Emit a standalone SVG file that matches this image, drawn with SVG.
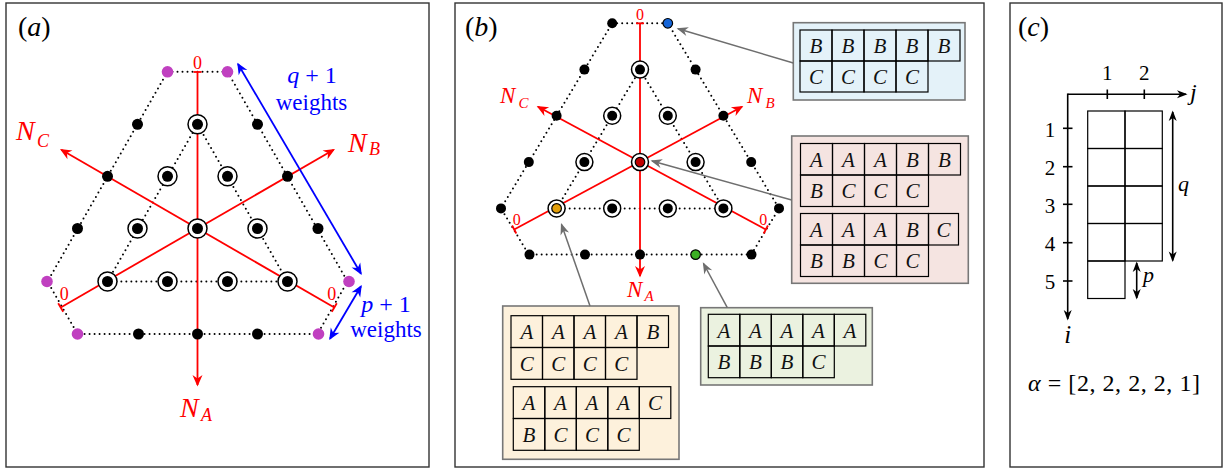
<svg xmlns="http://www.w3.org/2000/svg" width="1225" height="473" viewBox="0 0 1225 473" font-family="'Liberation Serif', 'DejaVu Serif', serif">
<style>
text{font-family:"Liberation Serif","DejaVu Serif",serif;}
.it{font-style:italic;}
.frame{fill:#fff;stroke:#333;stroke-width:1.4;}
.dot{stroke:#000;stroke-width:2;stroke-linecap:round;stroke-dasharray:0 5;fill:none;}
.red{stroke:#f00;stroke-width:1.8;fill:none;}
.rt{fill:#f00;}
.blue{stroke:#00f;stroke-width:1.8;fill:none;}
.bt{fill:#00f;}
.gray{stroke:#6e6e6e;stroke-width:1.5;fill:none;}
.blk{stroke:#000;stroke-width:1.6;fill:none;}
.ring{fill:#fff;stroke:#000;stroke-width:1.5;}
.box{stroke:#777;stroke-width:1.6;}
.cell{fill:none;stroke:#000;stroke-width:1.2;}
.ct{font-style:italic;font-size:21px;text-anchor:middle;fill:#111;}
.lab{font-size:21px;text-anchor:middle;}
</style>
<defs>
<marker id="mr" viewBox="-12 -6 14 12" refX="0" refY="0" markerWidth="14" markerHeight="12" markerUnits="userSpaceOnUse" orient="auto-start-reverse"><path d="M1.5,0 L-10,-5 L-6.5,0 L-10,5 Z" fill="#f00"/></marker>
<marker id="mb" viewBox="-12 -6 14 12" refX="0" refY="0" markerWidth="14" markerHeight="12" markerUnits="userSpaceOnUse" orient="auto-start-reverse"><path d="M1.5,0 L-10,-5 L-6.5,0 L-10,5 Z" fill="#00f"/></marker>
<marker id="mg" viewBox="-12 -6 14 12" refX="0" refY="0" markerWidth="14" markerHeight="12" markerUnits="userSpaceOnUse" orient="auto-start-reverse"><path d="M1.5,0 L-10,-4.5 L-6.5,0 L-10,4.5 Z" fill="#6e6e6e"/></marker>
<marker id="mk" viewBox="-12 -6 14 12" refX="0" refY="0" markerWidth="14" markerHeight="12" markerUnits="userSpaceOnUse" orient="auto-start-reverse"><path d="M1.5,0 L-9,-4 L-6,0 L-9,4 Z" fill="#000"/></marker>
</defs>

<!-- ================= Panel (a) ================= -->
<g id="panel-a">
<rect class="frame" x="6" y="3" width="423" height="464"/>
<text x="18" y="36" font-size="28">(<tspan class="it">a</tspan>)</text>
</g>
<g id="a-connectors">
<path class="dot" d="M167.5,71.8 L227.5,71.8 L347.5,281.5 L317.5,334 L77.5,334 L47.5,281.5 Z"/>
<path class="dot" d="M197.5,124.3 L107.5,281.5 L287.5,281.5 Z"/>
<line class="red" x1="197.5" y1="72" x2="197.5" y2="385" marker-end="url(#mr)"/>
<line class="red" x1="193.5" y1="72" x2="201.5" y2="72"/>
<line class="red" x1="334.3" y1="307.5" x2="61.3" y2="149.8" marker-end="url(#mr)"/>
<line class="red" x1="331.8" y1="311.8" x2="336.8" y2="303.2"/>
<line class="red" x1="60.7" y1="307.5" x2="333.7" y2="149.8" marker-end="url(#mr)"/>
<line class="red" x1="63.2" y1="311.8" x2="58.2" y2="303.2"/>
<line class="blue" x1="238" y1="64" x2="361" y2="273.7" marker-start="url(#mb)" marker-end="url(#mb)"/>
<line class="blue" x1="361" y1="286.3" x2="330" y2="338.7" marker-start="url(#mb)" marker-end="url(#mb)"/>
</g>
<g id="a-nodes">
<g id="a-r1"><circle cx="167.5" cy="71.8" r="5.8" fill="#c040c0"/><circle cx="227.5" cy="71.8" r="5.8" fill="#c040c0"/></g>
<g id="a-r2"><circle cx="137.5" cy="124.3" r="5.5"/><circle class="ring" cx="197.5" cy="124.3" r="9.5"/><circle cx="197.5" cy="124.3" r="5.5"/><circle cx="257.5" cy="124.3" r="5.5"/></g>
<g id="a-r3"><circle cx="107.5" cy="176.3" r="5.5"/><circle class="ring" cx="167.5" cy="176.3" r="9.5"/><circle cx="167.5" cy="176.3" r="5.5"/><circle class="ring" cx="227.5" cy="176.3" r="9.5"/><circle cx="227.5" cy="176.3" r="5.5"/><circle cx="287.5" cy="176.3" r="5.5"/></g>
<g id="a-r4"><circle cx="77.5" cy="228.5" r="5.5"/><circle class="ring" cx="137.5" cy="228.5" r="9.5"/><circle cx="137.5" cy="228.5" r="5.5"/><circle class="ring" cx="197.5" cy="228.5" r="9.5"/><circle cx="197.5" cy="228.5" r="5.5"/><circle class="ring" cx="257.5" cy="228.5" r="9.5"/><circle cx="257.5" cy="228.5" r="5.5"/><circle cx="318" cy="228.5" r="5.5"/></g>
<g id="a-r5"><circle cx="47" cy="281.5" r="5.8" fill="#c040c0"/><circle class="ring" cx="107.5" cy="281.5" r="9.5"/><circle cx="107.5" cy="281.5" r="5.5"/><circle class="ring" cx="167.5" cy="281.5" r="9.5"/><circle cx="167.5" cy="281.5" r="5.5"/><circle class="ring" cx="227.5" cy="281.5" r="9.5"/><circle cx="227.5" cy="281.5" r="5.5"/><circle class="ring" cx="287.5" cy="281.5" r="9.5"/><circle cx="287.5" cy="281.5" r="5.5"/><circle cx="349" cy="281.5" r="5.8" fill="#c040c0"/></g>
<g id="a-r6"><circle cx="77.5" cy="334" r="5.8" fill="#c040c0"/><circle cx="138.5" cy="334" r="5.5"/><circle cx="197.5" cy="334" r="5.5"/><circle cx="257.5" cy="334" r="5.5"/><circle cx="318.5" cy="334" r="5.8" fill="#c040c0"/></g>
</g>
<g id="a-labels">
<text class="rt" x="197.5" y="69" font-size="18" text-anchor="middle">0</text>
<text class="rt" x="64.3" y="300" font-size="18" text-anchor="middle">0</text>
<text class="rt" x="331.7" y="300" font-size="18" text-anchor="middle">0</text>
<text class="rt it" x="16" y="140" font-size="28">N</text><text class="rt it" x="37" y="147" font-size="18">C</text>
<text class="rt it" x="348" y="152" font-size="28">N</text><text class="rt it" x="369" y="155" font-size="18">B</text>
<text class="rt it" x="180" y="417" font-size="28">N</text><text class="rt it" x="201" y="421" font-size="18">A</text>
<text class="bt" x="312" y="83" font-size="24" text-anchor="middle"><tspan class="it">q</tspan> + 1</text>
<text class="bt" x="311.5" y="110" font-size="23" text-anchor="middle">weights</text>
<text class="bt" x="386" y="312" font-size="24" text-anchor="middle"><tspan class="it">p</tspan> + 1</text>
<text class="bt" x="386" y="337" font-size="23" text-anchor="middle">weights</text>
</g>

<!-- ================= Panel (b) ================= -->
<g id="panel-b">
<rect class="frame" x="455" y="3" width="529" height="464"/>
<text x="465" y="36" font-size="28">(<tspan class="it">b</tspan>)</text>
</g>
<g id="b-connectors">
<path class="dot" d="M612.2,23.3 L667.8,23.3 L779,208.4 L751.2,254.6 L528.8,254.6 L501,208.4 Z"/>
<path class="dot" d="M640,69.6 L556.6,208.4 L723.4,208.4 Z"/>
<line class="red" x1="640" y1="23.3" x2="640" y2="276" marker-end="url(#mr)"/>
<line class="red" x1="636" y1="23.3" x2="644" y2="23.3"/>
<line class="red" x1="765.8" y1="229.5" x2="538" y2="106.8" marker-end="url(#mr)"/>
<line class="red" x1="763.7" y1="233.5" x2="767.9" y2="225.5"/>
<line class="red" x1="514.2" y1="229.5" x2="742" y2="106.8" marker-end="url(#mr)"/>
<line class="red" x1="516.3" y1="233.5" x2="512.1" y2="225.5"/>
</g>
<g id="b-nodes">
<g id="b-r1"><circle cx="612.2" cy="23.3" r="5"/><circle cx="667.8" cy="23.3" r="4.8" fill="#1565d8" stroke="#000" stroke-width="1.2"/></g>
<g id="b-r2"><circle cx="584.4" cy="69.6" r="5"/><circle class="ring" cx="640" cy="69.6" r="8.5"/><circle cx="640" cy="69.6" r="5"/><circle cx="695.6" cy="69.6" r="5"/></g>
<g id="b-r3"><circle cx="556.6" cy="115.8" r="5"/><circle class="ring" cx="612.2" cy="115.8" r="8.5"/><circle cx="612.2" cy="115.8" r="5"/><circle class="ring" cx="667.8" cy="115.8" r="8.5"/><circle cx="667.8" cy="115.8" r="5"/><circle cx="723.4" cy="115.8" r="5"/></g>
<g id="b-r4"><circle cx="528.8" cy="162.1" r="5"/><circle class="ring" cx="584.4" cy="162.1" r="8.5"/><circle cx="584.4" cy="162.1" r="5"/><circle class="ring" cx="640" cy="162.1" r="8.5"/><circle cx="640" cy="162.1" r="4.8" fill="#c00000" stroke="#000" stroke-width="1.2"/><circle class="ring" cx="695.6" cy="162.1" r="8.5"/><circle cx="695.6" cy="162.1" r="5"/><circle cx="751.2" cy="162.1" r="5"/></g>
<g id="b-r5"><circle cx="501" cy="208.4" r="5"/><circle class="ring" cx="556.6" cy="208.4" r="8.5"/><circle cx="556.6" cy="208.4" r="4.8" fill="#e3a00c" stroke="#000" stroke-width="1.2"/><circle class="ring" cx="612.2" cy="208.4" r="8.5"/><circle cx="612.2" cy="208.4" r="5"/><circle class="ring" cx="667.8" cy="208.4" r="8.5"/><circle cx="667.8" cy="208.4" r="5"/><circle class="ring" cx="723.4" cy="208.4" r="8.5"/><circle cx="723.4" cy="208.4" r="5"/><circle cx="779" cy="208.4" r="5"/></g>
<g id="b-r6"><circle cx="529.5" cy="254.6" r="5"/><circle cx="585" cy="254.6" r="5"/><circle cx="640" cy="254.6" r="5"/><circle cx="695.6" cy="254.6" r="4.8" fill="#3cb024" stroke="#000" stroke-width="1.2"/><circle cx="751.5" cy="254.6" r="5"/></g>
</g>
<g id="b-labels">
<text class="rt" x="640" y="19.5" font-size="16" text-anchor="middle">0</text>
<text class="rt" x="516.7" y="224.5" font-size="16" text-anchor="middle">0</text>
<text class="rt" x="763.3" y="224.5" font-size="16" text-anchor="middle">0</text>
<text class="rt it" x="500" y="103.3" font-size="23">N</text><text class="rt it" x="518.5" y="107.5" font-size="15">C</text>
<text class="rt it" x="747" y="103.3" font-size="23">N</text><text class="rt it" x="765.5" y="108" font-size="15">B</text>
<text class="rt it" x="627" y="296.7" font-size="23">N</text><text class="rt it" x="644.5" y="301" font-size="15">A</text>
</g>

<g id="box-blue">
<rect class="box" x="793.3" y="22.7" width="171.7" height="77.3" fill="#e4f2f9"/>
<rect class="cell" x="800" y="30" width="32" height="31"/><rect class="cell" x="832" y="30" width="32" height="31"/><rect class="cell" x="864" y="30" width="32" height="31"/><rect class="cell" x="896" y="30" width="32" height="31"/><rect class="cell" x="928" y="30" width="32" height="31"/>
<rect class="cell" x="800" y="61" width="32" height="31"/><rect class="cell" x="832" y="61" width="32" height="31"/><rect class="cell" x="864" y="61" width="32" height="31"/><rect class="cell" x="896" y="61" width="32" height="31"/>
<text class="ct" x="816" y="53">B</text><text class="ct" x="848" y="53">B</text><text class="ct" x="880" y="53">B</text><text class="ct" x="912" y="53">B</text><text class="ct" x="944" y="53">B</text>
<text class="ct" x="816" y="84">C</text><text class="ct" x="848" y="84">C</text><text class="ct" x="880" y="84">C</text><text class="ct" x="912" y="84">C</text>
</g>

<g id="box-pink">
<rect class="box" x="791.7" y="136" width="176.6" height="147.3" fill="#f5e4e1"/>
<rect class="cell" x="800.5" y="143.5" width="32" height="31.5"/><rect class="cell" x="832.5" y="143.5" width="32" height="31.5"/><rect class="cell" x="864.5" y="143.5" width="32" height="31.5"/><rect class="cell" x="896.5" y="143.5" width="32" height="31.5"/><rect class="cell" x="928.5" y="143.5" width="32" height="31.5"/>
<rect class="cell" x="800.5" y="175" width="32" height="31.5"/><rect class="cell" x="832.5" y="175" width="32" height="31.5"/><rect class="cell" x="864.5" y="175" width="32" height="31.5"/><rect class="cell" x="896.5" y="175" width="32" height="31.5"/>
<text class="ct" x="816.5" y="166.5">A</text><text class="ct" x="848.5" y="166.5">A</text><text class="ct" x="880.5" y="166.5">A</text><text class="ct" x="912.5" y="166.5">B</text><text class="ct" x="944.5" y="166.5">B</text>
<text class="ct" x="816.5" y="198">B</text><text class="ct" x="848.5" y="198">C</text><text class="ct" x="880.5" y="198">C</text><text class="ct" x="912.5" y="198">C</text>
<rect class="cell" x="800.5" y="213.5" width="32" height="31.5"/><rect class="cell" x="832.5" y="213.5" width="32" height="31.5"/><rect class="cell" x="864.5" y="213.5" width="32" height="31.5"/><rect class="cell" x="896.5" y="213.5" width="32" height="31.5"/><rect class="cell" x="928.5" y="213.5" width="30" height="31.5"/>
<rect class="cell" x="800.5" y="245" width="32" height="31.5"/><rect class="cell" x="832.5" y="245" width="32" height="31.5"/><rect class="cell" x="864.5" y="245" width="32" height="31.5"/><rect class="cell" x="896.5" y="245" width="32" height="31.5"/>
<text class="ct" x="816.5" y="236.5">A</text><text class="ct" x="848.5" y="236.5">A</text><text class="ct" x="880.5" y="236.5">A</text><text class="ct" x="912.5" y="236.5">B</text><text class="ct" x="943.5" y="236.5">C</text>
<text class="ct" x="816.5" y="268">B</text><text class="ct" x="848.5" y="268">B</text><text class="ct" x="880.5" y="268">C</text><text class="ct" x="912.5" y="268">C</text>
</g>

<g id="box-yellow">
<rect class="box" x="502.7" y="306" width="176.3" height="153.3" fill="#fdf1dc"/>
<rect class="cell" x="511" y="315.7" width="31.5" height="31.8"/><rect class="cell" x="542.5" y="315.7" width="31.5" height="31.8"/><rect class="cell" x="574" y="315.7" width="31.5" height="31.8"/><rect class="cell" x="605.5" y="315.7" width="31.5" height="31.8"/><rect class="cell" x="637" y="315.7" width="31.5" height="31.8"/>
<rect class="cell" x="511" y="347.5" width="31.5" height="31.8"/><rect class="cell" x="542.5" y="347.5" width="31.5" height="31.8"/><rect class="cell" x="574" y="347.5" width="31.5" height="31.8"/><rect class="cell" x="605.5" y="347.5" width="31.5" height="31.8"/>
<text class="ct" x="526.8" y="339">A</text><text class="ct" x="558.3" y="339">A</text><text class="ct" x="589.8" y="339">A</text><text class="ct" x="621.3" y="339">A</text><text class="ct" x="652.8" y="339">B</text>
<text class="ct" x="526.8" y="370.8">C</text><text class="ct" x="558.3" y="370.8">C</text><text class="ct" x="589.8" y="370.8">C</text><text class="ct" x="621.3" y="370.8">C</text>
<rect class="cell" x="513.3" y="386.7" width="31.5" height="31.8"/><rect class="cell" x="544.8" y="386.7" width="31.5" height="31.8"/><rect class="cell" x="576.3" y="386.7" width="31.5" height="31.8"/><rect class="cell" x="607.8" y="386.7" width="31.5" height="31.8"/><rect class="cell" x="639.3" y="386.7" width="31.5" height="31.8"/>
<rect class="cell" x="513.3" y="418.5" width="31.5" height="31.8"/><rect class="cell" x="544.8" y="418.5" width="31.5" height="31.8"/><rect class="cell" x="576.3" y="418.5" width="31.5" height="31.8"/><rect class="cell" x="607.8" y="418.5" width="31.5" height="31.8"/>
<text class="ct" x="529" y="410">A</text><text class="ct" x="560.5" y="410">A</text><text class="ct" x="592" y="410">A</text><text class="ct" x="623.5" y="410">A</text><text class="ct" x="655" y="410">C</text>
<text class="ct" x="529" y="441.8">B</text><text class="ct" x="560.5" y="441.8">C</text><text class="ct" x="592" y="441.8">C</text><text class="ct" x="623.5" y="441.8">C</text>
</g>

<g id="box-green">
<rect class="box" x="700.7" y="307.7" width="171.6" height="77.3" fill="#ebf2e0"/>
<rect class="cell" x="708.3" y="314.3" width="31.5" height="31.7"/><rect class="cell" x="739.8" y="314.3" width="31.5" height="31.7"/><rect class="cell" x="771.3" y="314.3" width="31.5" height="31.7"/><rect class="cell" x="802.8" y="314.3" width="31.5" height="31.7"/><rect class="cell" x="834.3" y="314.3" width="31.5" height="31.7"/>
<rect class="cell" x="708.3" y="346" width="31.5" height="31.7"/><rect class="cell" x="739.8" y="346" width="31.5" height="31.7"/><rect class="cell" x="771.3" y="346" width="31.5" height="31.7"/><rect class="cell" x="802.8" y="346" width="31.5" height="31.7"/>
<text class="ct" x="724" y="337.6">A</text><text class="ct" x="755.5" y="337.6">A</text><text class="ct" x="787" y="337.6">A</text><text class="ct" x="818.5" y="337.6">A</text><text class="ct" x="850" y="337.6">A</text>
<text class="ct" x="724" y="369.3">B</text><text class="ct" x="755.5" y="369.3">B</text><text class="ct" x="787" y="369.3">B</text><text class="ct" x="818.5" y="369.3">C</text>
</g>

<g id="b-pointers">
<line class="gray" x1="793.3" y1="63" x2="678" y2="28.8" marker-end="url(#mg)"/>
<line class="gray" x1="791.7" y1="200" x2="652" y2="161" marker-end="url(#mg)"/>
<line class="gray" x1="590" y1="306" x2="561.5" y2="224.5" marker-end="url(#mg)"/>
<line class="gray" x1="727.3" y1="307.7" x2="703.5" y2="263.5" marker-end="url(#mg)"/>
</g>

<!-- ================= Panel (c) ================= -->
<g id="panel-c">
<rect class="frame" x="1010" y="3" width="212" height="464"/>
<text x="1018" y="36" font-size="28">(<tspan class="it">c</tspan>)</text>
</g>
<g id="c-connectors">
<line class="blk" x1="1067.7" y1="94.3" x2="1186" y2="94.3" marker-end="url(#mk)"/>
<line class="blk" x1="1067.7" y1="93.5" x2="1067.7" y2="319" marker-end="url(#mk)"/>
<line class="blk" x1="1107.3" y1="89.5" x2="1107.3" y2="99"/>
<line class="blk" x1="1144.3" y1="89.5" x2="1144.3" y2="99"/>
<line class="blk" x1="1063" y1="128.3" x2="1072.5" y2="128.3"/>
<line class="blk" x1="1063" y1="166.7" x2="1072.5" y2="166.7"/>
<line class="blk" x1="1063" y1="204.3" x2="1072.5" y2="204.3"/>
<line class="blk" x1="1063" y1="242.7" x2="1072.5" y2="242.7"/>
<line class="blk" x1="1063" y1="281" x2="1072.5" y2="281"/>
<line class="blk" x1="1172.7" y1="112" x2="1172.7" y2="260.5" marker-start="url(#mk)" marker-end="url(#mk)"/>
<line class="blk" x1="1136.7" y1="263" x2="1136.7" y2="298" marker-start="url(#mk)" marker-end="url(#mk)"/>
</g>
<g id="c-grid">
<rect class="cell" x="1087.7" y="111" width="37.3" height="37.5" stroke-width="1.6"/><rect class="cell" x="1125" y="111" width="37.3" height="37.5" stroke-width="1.6"/>
<rect class="cell" x="1087.7" y="148.5" width="37.3" height="37.5" stroke-width="1.6"/><rect class="cell" x="1125" y="148.5" width="37.3" height="37.5" stroke-width="1.6"/>
<rect class="cell" x="1087.7" y="186" width="37.3" height="37.5" stroke-width="1.6"/><rect class="cell" x="1125" y="186" width="37.3" height="37.5" stroke-width="1.6"/>
<rect class="cell" x="1087.7" y="223.5" width="37.3" height="37.5" stroke-width="1.6"/><rect class="cell" x="1125" y="223.5" width="37.3" height="37.5" stroke-width="1.6"/>
<rect class="cell" x="1087.7" y="261" width="37.3" height="37.5" stroke-width="1.6"/>
</g>
<g id="c-labels">
<text class="lab" x="1107.3" y="80" font-size="19">1</text>
<text class="lab" x="1144.3" y="80" font-size="19">2</text>
<text class="lab" x="1050" y="136.5">1</text>
<text class="lab" x="1050" y="175">2</text>
<text class="lab" x="1050" y="212.5">3</text>
<text class="lab" x="1050" y="251">4</text>
<text class="lab" x="1050" y="289">5</text>
<text class="it" x="1190" y="100" font-size="24">j</text>
<text class="it" x="1067.7" y="343" font-size="25" text-anchor="middle">i</text>
<text class="it" x="1178" y="191" font-size="22">q</text>
<text class="it" x="1143" y="282" font-size="22">p</text>
<text x="1114" y="391" font-size="24" text-anchor="middle" textLength="172" lengthAdjust="spacing"><tspan class="it">α</tspan> = [2, 2, 2, 2, 1]</text>
</g>
</svg>
